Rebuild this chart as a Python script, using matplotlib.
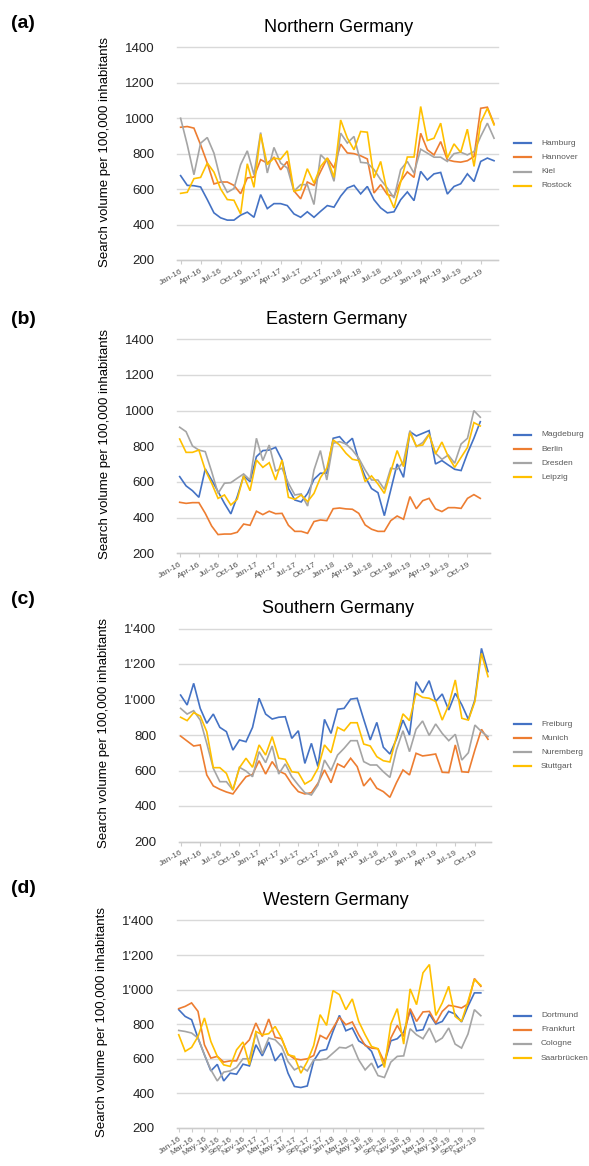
import matplotlib.pyplot as plt
from matplotlib.lines import Line2D
from matplotlib.ticker import FuncFormatter

plt.rcParams['font.family'] = ['Liberation Sans', 'DejaVu Sans']

# month labels Jan-16 ... Dec-19
months = ['Jan', 'Feb', 'Mar', 'Apr', 'May', 'Jun', 'Jul', 'Aug', 'Sep', 'Oct', 'Nov', 'Dec']
years = ['16', '17', '18', '19']
dates = [m + '-' + y for y in years for m in months]

# (a) Northern Germany
north_cities = ['Hamburg', 'Hannover', 'Kiel', 'Rostock']
hamburg = [676, 621, 619, 612, 541, 466, 438, 425, 425, 453, 470, 441,
           569, 490, 518, 518, 507, 460, 441, 472, 441, 475, 507, 498,
           560, 606, 621, 573, 615, 540, 494, 466, 472, 540, 584, 535,
           700, 652, 686, 694, 572, 615, 630, 686, 643, 756, 775, 760]
hannover = [949, 953, 944, 850, 747, 629, 640, 640, 621, 574, 663, 668,
            766, 747, 779, 709, 756, 590, 545, 640, 621, 700, 775, 719,
            854, 804, 800, 788, 770, 578, 625, 569, 560, 644, 697, 666,
            915, 822, 793, 868, 765, 756, 752, 760, 784, 1056, 1062, 968]
kiel = [1000, 850, 681, 859, 891, 803, 653, 582, 603, 738, 816, 681,
        919, 691, 835, 747, 719, 588, 625, 625, 513, 794, 756, 644,
        916, 860, 897, 751, 747, 710, 653, 606, 550, 710, 756, 690,
        825, 803, 780, 780, 756, 800, 808, 793, 812, 897, 972, 887]
rostock = [576, 582, 659, 666, 747, 696, 601, 541, 537, 460, 743, 610,
           910, 738, 775, 769, 816, 588, 597, 715, 634, 728, 775, 666,
           990, 888, 822, 925, 921, 663, 756, 580, 494, 640, 781, 781,
           1066, 874, 887, 972, 775, 855, 807, 938, 728, 976, 1056, 962]

# (b) Eastern Germany
east_cities = ['Magdeburg', 'Berlin', 'Dresden', 'Leipzig']
magdeburg = [630, 578, 551, 514, 673, 611, 546, 480, 421, 518, 634, 602,
             742, 776, 779, 794, 723, 564, 499, 488, 536, 615, 649, 649,
             845, 854, 813, 845, 720, 630, 563, 540, 411, 555, 701, 626,
             882, 858, 873, 888, 701, 720, 695, 671, 664, 761, 845, 938]
berlin = [486, 480, 484, 484, 424, 353, 305, 308, 308, 318, 364, 357,
          436, 417, 436, 422, 424, 357, 323, 323, 312, 378, 387, 383,
          450, 454, 449, 447, 424, 359, 335, 323, 323, 383, 409, 391,
          518, 450, 495, 508, 449, 434, 456, 456, 452, 508, 529, 508]
dresden = [907, 882, 802, 779, 770, 658, 536, 593, 596, 621, 645, 611,
           845, 720, 807, 662, 677, 593, 527, 533, 465, 667, 776, 611,
           817, 826, 813, 779, 733, 667, 611, 611, 559, 677, 671, 714,
           888, 798, 821, 869, 761, 727, 751, 705, 813, 845, 1000, 963]
leipzig = [841, 766, 766, 779, 667, 593, 508, 527, 471, 503, 634, 551,
           723, 682, 708, 611, 723, 514, 503, 527, 490, 536, 624, 677,
           836, 807, 761, 727, 720, 602, 634, 589, 536, 658, 776, 686,
           877, 802, 807, 867, 757, 824, 742, 682, 738, 794, 933, 914]

# (c) Southern Germany
south_cities = ['Freiburg', 'Munich', 'Nuremberg', 'Stuttgart']
freiburg = [1025, 969, 1091, 950, 866, 918, 843, 819, 715, 772, 762, 843,
            1007, 918, 890, 900, 903, 781, 824, 640, 753, 622, 888, 809,
            945, 950, 1002, 1007, 888, 772, 871, 731, 693, 776, 884, 800,
            1100, 1038, 1106, 989, 1031, 941, 1035, 970, 888, 998, 1288, 1157]
munich = [794, 766, 738, 744, 575, 513, 494, 479, 468, 518, 565, 578,
          655, 580, 650, 597, 580, 524, 481, 468, 475, 528, 603, 531,
          637, 618, 669, 622, 513, 556, 500, 481, 449, 531, 603, 575,
          697, 682, 687, 693, 590, 588, 744, 593, 590, 716, 832, 776]
nuremberg = [950, 918, 937, 884, 753, 612, 537, 537, 490, 618, 597, 565,
             706, 644, 738, 580, 637, 565, 518, 475, 462, 518, 659, 600,
             687, 725, 768, 768, 650, 631, 631, 593, 561, 716, 824, 706,
             832, 879, 798, 862, 809, 768, 804, 659, 700, 856, 819, 791]
stuttgart = [900, 881, 926, 907, 819, 616, 616, 584, 490, 616, 669, 618,
             744, 687, 791, 669, 663, 593, 588, 524, 546, 612, 744, 700,
             843, 824, 869, 869, 749, 738, 678, 655, 648, 789, 919, 881,
             1035, 1012, 1007, 989, 884, 970, 1110, 894, 884, 989, 1260, 1129]

# (d) Western Germany
west_cities = ['Dortmund', 'Frankfurt', 'Cologne', 'Saarbrücken']
dortmund = [884, 845, 826, 720, 623, 530, 568, 472, 517, 511, 569, 559,
            681, 617, 697, 588, 633, 517, 440, 434, 443, 588, 646, 654,
            758, 851, 762, 778, 704, 681, 643, 550, 575, 704, 716, 754,
            878, 762, 768, 859, 801, 816, 874, 859, 813, 903, 981, 981]
frankfurt = [890, 903, 923, 874, 681, 604, 614, 581, 588, 588, 671, 710,
             807, 729, 830, 724, 716, 627, 600, 594, 600, 619, 735, 715,
             778, 840, 797, 813, 739, 677, 662, 658, 581, 720, 793, 729,
             890, 816, 871, 874, 807, 874, 909, 903, 894, 917, 1064, 1019]
cologne = [764, 758, 749, 720, 623, 536, 472, 523, 530, 550, 600, 600,
           749, 629, 720, 710, 671, 584, 536, 556, 530, 594, 594, 600,
           633, 666, 662, 681, 594, 536, 575, 503, 492, 581, 614, 617,
           774, 739, 716, 778, 697, 720, 778, 685, 662, 743, 884, 849]
saarbruecken = [739, 643, 666, 729, 836, 700, 614, 565, 556, 652, 697, 565,
                758, 739, 745, 787, 720, 623, 614, 517, 584, 677, 855, 793,
                994, 971, 884, 946, 816, 739, 671, 658, 550, 801, 890, 685,
                1004, 913, 1097, 1145, 851, 923, 1019, 845, 816, 932, 1058, 1025]

colors = ['#4472C4', '#ED7D31', '#A5A5A5', '#FFC000']

W, H = 589, 1166
fig = plt.figure(figsize=(W / 100, H / 100), dpi=100)


def fx(px):
    return px / W


def fy(py):
    return 1 - py / H


def apostrophe(v, pos):
    return format(int(v), ',').replace(',', "'")


# letter, title, cities, series, label step, apostrophe format,
# grid left/right px, y of 1400 / 200 px, xlim, title x/y, letter y, legend y, rotation, ylabel x
panels = [
    ('(a)', 'Northern Germany', north_cities, [hamburg, hannover, kiel, rostock], 3, False,
     176.8, 497.7, 47.3, 260.0, (-0.57, 47.55), 339, 27.5, 23, 143.3, 30, 104.8),
    ('(b)', 'Eastern Germany', east_cities, [magdeburg, berlin, dresden, leipzig], 3, False,
     176.8, 490.2, 339.3, 553.3, (-0.45, 48.55), 337, 320, 320, 435, 30, 104.8),
    ('(c)', 'Southern Germany', south_cities, [freiburg, munich, nuremberg, stuttgart], 3, True,
     178.7, 491.0, 628.5, 841.5, (-0.29, 47.46), 338, 608.8, 600, 724, 30, 104.3),
    ('(d)', 'Western Germany', west_cities, [dortmund, frankfurt, cologne, saarbruecken], 2, True,
     176.8, 483.4, 920.4, 1128.0, (-0.30, 47.40), 335.6, 900.5, 888.5, 1015.7, 35, 101.6),
]

for (letter, title, cities, series, step, apos, gl, gr, ytop, ybot, xlim,
     tx, ty, ly, legy, rot, ylx) in panels:
    ax = fig.add_axes([fx(gl), fy(ybot), (gr - gl) / W, (ybot - ytop) / H])
    x = list(range(len(dates)))
    for vals, c in zip(series, colors):
        ax.plot(x, vals, color=c, lw=1.2, solid_joinstyle='miter')

    ax.set_xlim(*xlim)
    ax.set_ylim(200, 1400)
    ax.set_yticks(range(200, 1401, 200))
    if apos:
        ax.yaxis.set_major_formatter(FuncFormatter(apostrophe))
    ax.grid(axis='y', color='#d9d9d9', lw=1.0)
    for t in ax.yaxis.get_major_ticks():
        t.gridline.set_clip_on(False)
    ax.set_axisbelow(True)
    for s in ['top', 'right', 'left']:
        ax.spines[s].set_visible(False)
    ax.spines['bottom'].set_color('#cccccc')
    ax.spines['bottom'].set_linewidth(1.0)

    ax.tick_params(axis='y', length=0, pad=16, labelsize=9.5, labelcolor='#222222')
    ax.set_xticks(x[::step])
    ax.set_xticklabels(dates[::step], rotation=rot, ha='right', va='top',
                       rotation_mode='anchor', fontsize=6, color='#555555')
    ax.tick_params(axis='x', length=3, width=0.8, color='#cccccc', pad=2.5)

    # panel letter, title and y label
    fig.text(fx(11), fy(ly), letter, fontsize=14, fontweight='bold', va='center', ha='left')
    fig.text(fx(tx), fy(ty), title, fontsize=13, va='center', ha='center')
    fig.text(fx(ylx), fy((ytop + ybot) / 2 - 2), 'Search volume per 100,000 inhabitants',
             rotation=90, fontsize=9.5, va='center', ha='center')

    # legend at the right side
    for k, (name, c) in enumerate(zip(cities, colors)):
        yy = legy + k * 14.1
        fig.add_artist(Line2D([fx(513.5), fx(531)], [fy(yy), fy(yy)], color=c, lw=1.6,
                              transform=fig.transFigure))
        fig.text(fx(541), fy(yy), name, fontsize=6, color='#595959', va='center', ha='left')

fig.savefig('out.png', dpi=100)
